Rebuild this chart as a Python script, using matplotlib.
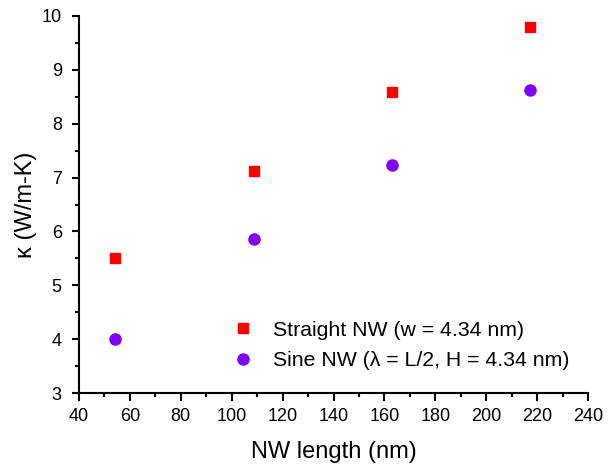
import matplotlib
matplotlib.use("Agg")
import matplotlib.pyplot as plt
from matplotlib.ticker import MultipleLocator

plt.rcParams["font.family"] = ["Liberation Sans", "DejaVu Sans"]

# data
nw_length = [54.3, 108.6, 162.9, 217.2]
kappa_straight = [5.50, 7.13, 8.59, 9.80]
kappa_sine = [4.00, 5.86, 7.23, 8.62]

fig = plt.figure(figsize=(6.11, 4.68), dpi=100)
ax = fig.add_axes([0.1293, 0.1596, 0.8331, 0.8068])

ax.plot(nw_length, kappa_straight, linestyle="none", marker="s", markersize=7.0,
        color="#ff0000", label="Straight NW (w = 4.34 nm)")
ax.plot(nw_length, kappa_sine, linestyle="none", marker="o", markersize=8,
        color="#8000ff", label="Sine NW (\u03bb = L/2, H = 4.34 nm)")

ax.set_xlim(40, 240)
ax.set_ylim(3, 10)
ax.xaxis.set_major_locator(MultipleLocator(20))
ax.xaxis.set_minor_locator(MultipleLocator(10))
ax.yaxis.set_major_locator(MultipleLocator(1))
ax.yaxis.set_minor_locator(MultipleLocator(0.5))

for side in ("top", "right"):
    ax.spines[side].set_visible(False)
for side in ("left", "bottom"):
    ax.spines[side].set_linewidth(1.5)

ax.tick_params(which="major", direction="out", length=5.4, width=1.5, labelsize=13)
ax.tick_params(which="minor", direction="out", length=3, width=1.5)
ax.tick_params(axis="x", which="major", pad=5)
ax.tick_params(axis="y", which="major", pad=7)

ax.set_xlabel("NW length (nm)", fontsize=17, labelpad=12)
ax.set_ylabel("\u03ba (W/m-K)", fontsize=17, labelpad=3.5)

ax.legend(loc="center left", bbox_to_anchor=(0.3797, 0.2617),
          bbox_transform=fig.transFigure, frameon=False,
          fontsize=15.3, handlelength=1.0, handletextpad=0.94, labelspacing=0.55,
          borderpad=0, borderaxespad=0)

fig.savefig("out.png", dpi=100)
